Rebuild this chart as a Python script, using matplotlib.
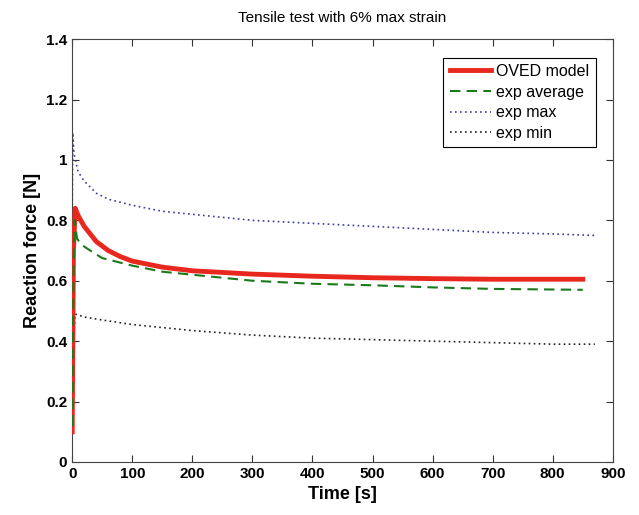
import matplotlib
matplotlib.use("Agg")
import matplotlib.pyplot as plt

plt.rcParams['font.family'] = ['Liberation Sans', 'DejaVu Sans']

t_oved = [0, 2, 5, 10, 20, 40, 60, 80, 100, 150, 200, 300, 400, 500, 600, 700, 850]
oved = [0.10, 0.70, 0.84, 0.815, 0.78, 0.73, 0.70, 0.68, 0.665, 0.645, 0.633, 0.622, 0.615, 0.61, 0.607, 0.605, 0.605]

t_avg = [0, 2, 4, 8, 15, 30, 50, 100, 150, 200, 300, 400, 500, 600, 700, 850]
avg = [0.12, 0.60, 0.80, 0.74, 0.72, 0.70, 0.675, 0.65, 0.63, 0.62, 0.60, 0.59, 0.585, 0.578, 0.573, 0.57]

t_max = [0, 1, 3, 10, 20, 40, 60, 100, 150, 200, 300, 400, 500, 600, 700, 800, 870]
vmax = [0.80, 1.09, 1.02, 0.96, 0.93, 0.89, 0.87, 0.85, 0.83, 0.82, 0.80, 0.79, 0.78, 0.77, 0.76, 0.755, 0.75]

t_min = [0, 2, 5, 20, 50, 100, 200, 300, 400, 500, 600, 700, 800, 870]
vmin = [0.11, 0.40, 0.49, 0.48, 0.47, 0.455, 0.435, 0.42, 0.41, 0.405, 0.40, 0.395, 0.39, 0.39]

xticks = [0, 100, 200, 300, 400, 500, 600, 700, 800, 900]
yticks = [0, 0.2, 0.4, 0.6, 0.8, 1, 1.2, 1.4]
ytick_labels = ['0', '0.2', '0.4', '0.6', '0.8', '1', '1.2', '1.4']

fig = plt.figure(figsize=(6.39, 5.15), dpi=100)
ax = fig.add_axes([0.113, 0.103, 0.846, 0.821])

ax.plot(t_oved, oved, color='#e8281e', lw=3.5, label='OVED model', zorder=3)
ax.plot(t_avg, avg, color='#1a7a1a', lw=1.5, ls=(0, (5, 3)), label='exp average', zorder=4)
ax.plot(t_max, vmax, color='#3a3aa0', lw=1.2, ls=(0, (1, 2)), label='exp max', zorder=2)
ax.plot(t_min, vmin, color='#222222', lw=1.2, ls=(0, (1, 2)), label='exp min', zorder=2)

ax.set_xlim(0, 900)
ax.set_ylim(0, 1.4)
ax.set_xticks(xticks)
ax.set_yticks(yticks)
ax.set_yticklabels(ytick_labels)
ax.tick_params(direction='in', length=5, labelsize=11, top=True, right=True, colors='#333333',
               labelcolor='black')
for sp in ax.spines.values():
    sp.set_color('#444444')
for lab in ax.get_xticklabels() + ax.get_yticklabels():
    lab.set_fontweight('bold')

ax.set_title('Tensile test with 6% max strain', fontsize=11, pad=12)
ax.set_xlabel('Time [s]', fontsize=13, fontweight='bold')
ax.set_ylabel('Reaction force [N]', fontsize=13, fontweight='bold')

leg = ax.legend(loc='upper right', bbox_to_anchor=(0.983, 0.975), fontsize=11.5,
                fancybox=False, edgecolor='black', framealpha=1,
                handlelength=2.6, borderpad=0.4, labelspacing=0.35, handletextpad=0.3)
leg.get_frame().set_linewidth(0.8)

fig.savefig('out.png', dpi=100)
